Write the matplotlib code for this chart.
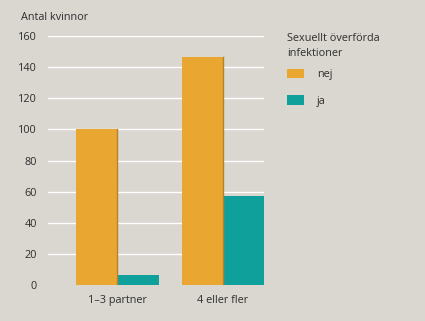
import matplotlib
matplotlib.use("Agg")
import matplotlib.pyplot as plt
import numpy as np
from matplotlib.patches import Patch

categories = ["1–3 partner", "4 eller fler"]
nej = [100, 146]
ja = [7, 57]
series_labels = ["nej", "ja"]
legend_title = "Sexuellt överförda\ninfektioner"
yticks = [0, 20, 40, 60, 80, 100, 120, 140, 160]

bg = "#dad7d1"
c_nej = "#e9a731"
c_ja = "#10a09b"
txt = "#2e2e2e"

plt.rcParams['font.family'] = ['Open Sans', 'DejaVu Sans']

fig = plt.figure(figsize=(4.25, 3.21), dpi=100, facecolor=bg)
ax = fig.add_axes([0.113, 0.1106, 0.508, 0.7784], facecolor=bg)

x = np.arange(len(categories))
w = 0.39
b1 = ax.bar(x - w/2, nej, width=w, color=c_nej, zorder=3)
b2 = ax.bar(x + w/2, ja, width=w, color=c_ja, zorder=3)
# subtle darker right edge on orange bars
for r in b1:
    ax.plot([r.get_x() + r.get_width(), r.get_x() + r.get_width()], [0, r.get_height()],
            color="#b3832c", lw=1.0, zorder=4)

ax.set_ylim(0, 160)
ax.set_xlim(-0.659, 1.39)
ax.set_yticks(yticks)
for t in yticks[1:]:
    ax.axhline(t, color="white", lw=1.0, zorder=1)
ax.set_xticks(x)
ax.set_xticklabels(categories)
ax.tick_params(axis='both', length=0, labelsize=7.8, colors=txt)
ax.tick_params(axis='y', pad=8)
ax.tick_params(axis='x', pad=7)
for s in ax.spines.values():
    s.set_visible(False)

fig.text(21/425, 1 - 17/321, "Antal kvinnor", fontsize=7.8, color=txt, va='center', ha='left')
fig.text(287/425, 1 - 33/321, legend_title, fontsize=7.8, color=txt, va='top', ha='left',
         linespacing=1.45)

handles = [Patch(facecolor=c_nej), Patch(facecolor=c_ja)]
leg = fig.legend(handles, series_labels,
                 loc='upper left', bbox_to_anchor=(277/425, 1 - 59/321),
                 frameon=False, fontsize=7.8,
                 handlelength=1.6, handleheight=1.0, handletextpad=1.2,
                 labelspacing=1.4, labelcolor=txt)

fig.savefig("out.png", dpi=100, facecolor=bg)
